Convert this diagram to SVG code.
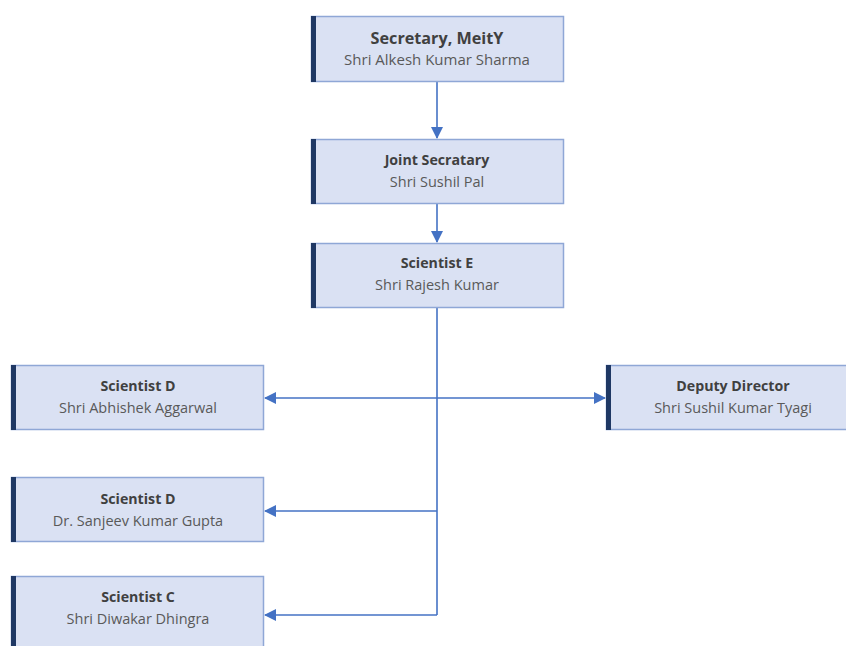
<svg xmlns="http://www.w3.org/2000/svg" width="846" height="646" viewBox="0 0 846 646">
<style>
.box{fill:#DAE1F3;stroke:#8FA7D6;stroke-width:1.5}
.bar{fill:#1F3864}
.t{font-family:"Open Sans","Noto Sans","Liberation Sans",sans-serif;font-weight:bold;font-size:14.2px;fill:#404040;text-anchor:middle}
.t1{font-size:16.2px}
.s{font-family:"Open Sans","Noto Sans","Liberation Sans",sans-serif;font-size:14.5px;fill:#595959;text-anchor:middle}
.s1{font-size:15px}
.c{fill:none;stroke:#4472C4;stroke-width:1.6}
</style>
<defs>
<marker id="ah" markerWidth="12" markerHeight="12" viewBox="0 0 12 12" refX="11" refY="6" orient="auto" markerUnits="userSpaceOnUse">
<path d="M0,0 L12,6 L0,12 Z" fill="#4472C4"/>
</marker>
</defs>
<rect width="846" height="646" fill="#FFFFFF"/>
<g id="connectors">
<line class="c" x1="437" y1="81" x2="437" y2="138" marker-end="url(#ah)"/>
<line class="c" x1="437" y1="204" x2="437" y2="242" marker-end="url(#ah)"/>
<line class="c" x1="437" y1="307" x2="437" y2="615"/>
<line class="c" x1="437" y1="398" x2="265" y2="398" marker-end="url(#ah)"/>
<line class="c" x1="437" y1="398" x2="605" y2="398" marker-end="url(#ah)"/>
<line class="c" x1="437" y1="511" x2="265" y2="511" marker-end="url(#ah)"/>
<line class="c" x1="437" y1="615" x2="265" y2="615" marker-end="url(#ah)"/>
</g>
<g id="secretary">
<rect class="box" x="311.5" y="16.5" width="252" height="65"/>
<rect class="bar" x="311" y="16" width="5" height="66"/>
<text class="t t1" x="437" y="44">Secretary, MeitY</text>
<text class="s s1" x="437" y="65">Shri Alkesh Kumar Sharma</text>
</g>
<g id="joint-secretary">
<rect class="box" x="311.5" y="139.5" width="252" height="64"/>
<rect class="bar" x="311" y="139" width="5" height="65"/>
<text class="t" x="437" y="165">Joint Secratary</text>
<text class="s" x="437" y="187">Shri Sushil Pal</text>
</g>
<g id="scientist-e">
<rect class="box" x="311.5" y="243.5" width="252" height="64"/>
<rect class="bar" x="311" y="243" width="5" height="65"/>
<text class="t" x="437" y="268">Scientist E</text>
<text class="s" x="437" y="290">Shri Rajesh Kumar</text>
</g>
<g id="scientist-d-abhishek">
<rect class="box" x="11.5" y="365.5" width="252" height="64"/>
<rect class="bar" x="11" y="365" width="5" height="65"/>
<text class="t" x="138" y="391">Scientist D</text>
<text class="s" x="138" y="413">Shri Abhishek Aggarwal</text>
</g>
<g id="deputy-director">
<rect class="box" x="606.5" y="365.5" width="252" height="64"/>
<rect class="bar" x="606" y="365" width="5" height="65"/>
<text class="t" x="733" y="391">Deputy Director</text>
<text class="s" x="733" y="413">Shri Sushil Kumar Tyagi</text>
</g>
<g id="scientist-d-sanjeev">
<rect class="box" x="11.5" y="477.5" width="252" height="64"/>
<rect class="bar" x="11" y="477" width="5" height="65"/>
<text class="t" x="138" y="504">Scientist D</text>
<text class="s" x="138" y="526">Dr. Sanjeev Kumar Gupta</text>
</g>
<g id="scientist-c">
<rect class="box" x="11.5" y="576.5" width="252" height="80"/>
<rect class="bar" x="11" y="576" width="5" height="80"/>
<text class="t" x="138" y="602">Scientist C</text>
<text class="s" x="138" y="624">Shri Diwakar Dhingra</text>
</g>
</svg>
